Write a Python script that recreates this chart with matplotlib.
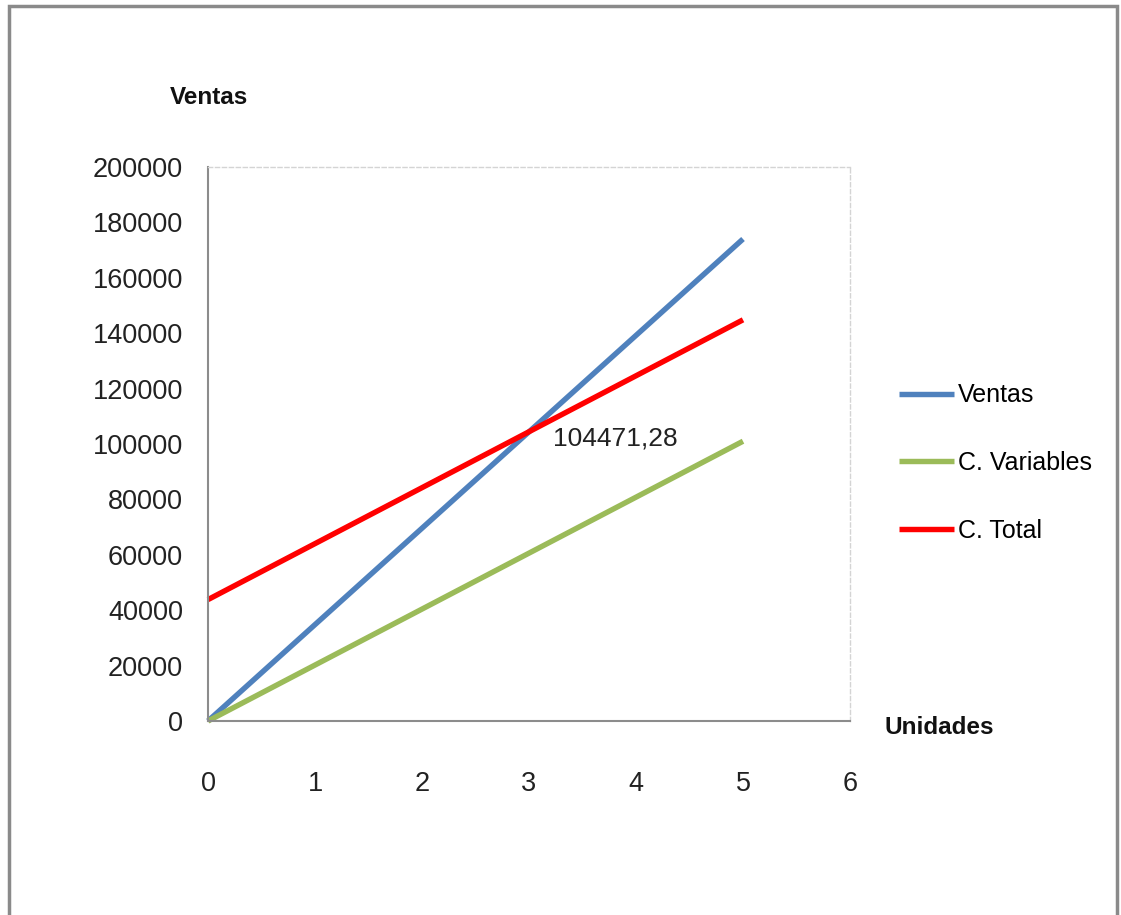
import matplotlib.pyplot as plt
from matplotlib.patches import Rectangle

# break-even chart data
unidades = [0, 5]
ventas = [0, 174000]
c_variables = [0, 101000]
c_total = [43830, 144830]
punto_equilibrio = 104471.28

series_labels = ['Ventas', 'C. Variables', 'C. Total']
series_colors = ['#4F81BD', '#9BBB59', '#FF0000']

plt.rcParams['font.family'] = ['Liberation Sans', 'DejaVu Sans']

fig = plt.figure(figsize=(11.21, 9.15), dpi=100)
ax = fig.add_axes([208 / 1121, 1 - 721 / 915, (850 - 208) / 1121, (721 - 167) / 915])

for vals, lab, col in zip([ventas, c_variables, c_total], series_labels, series_colors):
    ax.plot(unidades, vals, color=col, lw=3.9, label=lab, solid_capstyle='butt', clip_on=False)

# intersection of sales and total cost lines
m_v = (ventas[1] - ventas[0]) / (unidades[1] - unidades[0])
m_t = (c_total[1] - c_total[0]) / (unidades[1] - unidades[0])
x_eq = (c_total[0] - ventas[0]) / (m_v - m_t)
ax.annotate(f'{punto_equilibrio:.2f}'.replace('.', ','), xy=(x_eq, punto_equilibrio),
            xytext=(17, -5), textcoords='offset points', ha='left', va='center',
            fontsize=19, color='#222222')

ax.set_xlim(0, 6)
ax.set_ylim(0, 200000)
ax.set_xticks(range(0, 7))
ax.set_yticks(range(0, 200001, 20000))
ax.tick_params(axis='both', length=0, labelsize=19.5, colors='#222222')
ax.tick_params(axis='x', pad=36)
ax.tick_params(axis='y', pad=18)

for s in ['left', 'bottom']:
    ax.spines[s].set_color('#8c8c8c')
    ax.spines[s].set_linewidth(1.5)
for s in ['top', 'right']:
    ax.spines[s].set_color('#d4d4d4')
    ax.spines[s].set_linewidth(1.0)
    ax.spines[s].set_linestyle((0, (3, 2)))

fig.text(209 / 1121, 1 - 98 / 915, 'Ventas', ha='center', va='center',
         fontsize=17.5, fontweight='bold', color='#111111')
fig.text(884 / 1121, 1 - 728 / 915, 'Unidades', ha='left', va='center',
         fontsize=17.5, fontweight='bold', color='#111111')

fig.legend(loc='center left', bbox_to_anchor=(899 / 1121, 1 - 463 / 915), frameon=False,
           fontsize=18, handlelength=2.2, handletextpad=0.15, labelspacing=1.75,
           borderaxespad=0, borderpad=0)

# outer chart frame
fig.patches.append(Rectangle((9 / 1121, -0.02), (1117 - 9) / 1121, 1.02 - 6 / 915,
                             transform=fig.transFigure, fill=False,
                             edgecolor='#8a8a8a', linewidth=2.5))

fig.savefig('out.png', dpi=100)
